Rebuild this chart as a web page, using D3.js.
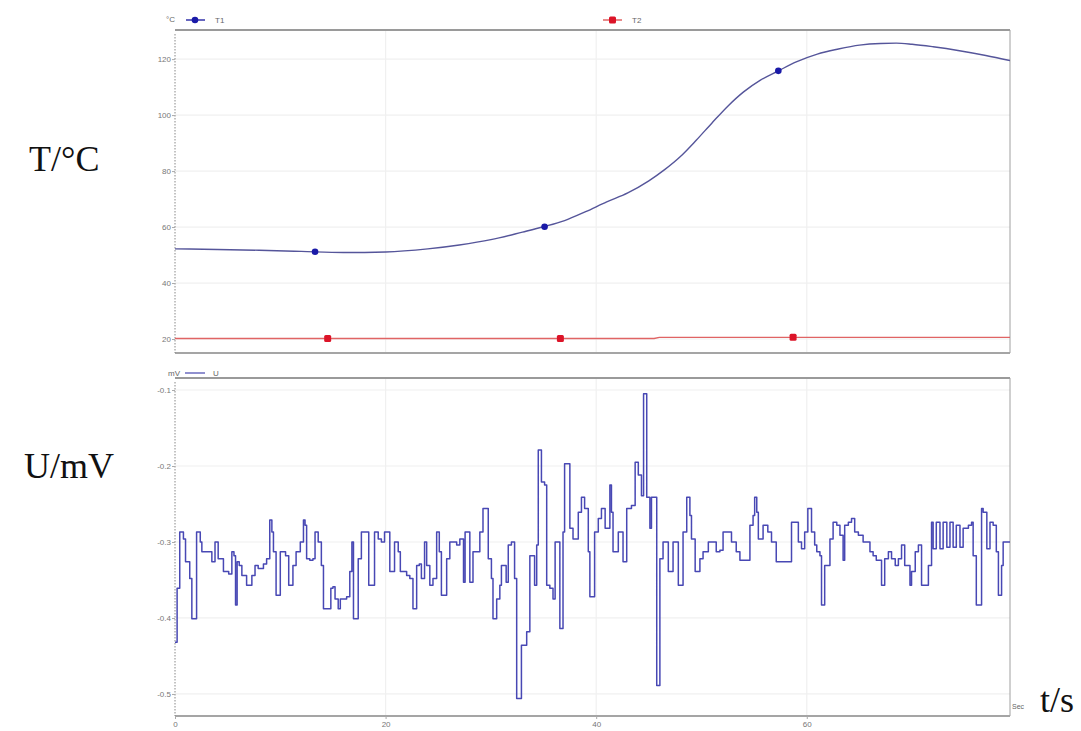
<!DOCTYPE html>
<html>
<head>
<meta charset="utf-8">
<script src="https://cdn.jsdelivr.net/npm/d3@7"></script>
<style>
  body { margin: 0; background: #fff; }
  svg { display: block; }
  .tick text { font-family: "Liberation Sans", Arial, sans-serif; font-size: 8px; fill: #777; }
  .big { font-family: "Liberation Serif", "Times New Roman", serif; font-size: 36px; fill: #111; }
  .small { font-family: "Liberation Sans", Arial, sans-serif; font-size: 8px; fill: #666; }
</style>
</head>
<body>
<div id="chart"></div>
<script>
// temperature curves (time in s, value in °C)
const t1Time = [0, 4, 8, 12, 16, 20, 24, 27, 30, 33, 35, 37, 39, 41, 43, 45, 46.5, 48, 49.5, 51,
  52.5, 54, 55.6, 57.3, 59, 61, 63, 65, 67, 68.5, 70, 72, 74.5, 77, 79.3];
const t1Temp = [52.2, 52.0, 51.7, 51.3, 50.9, 51.1, 52.2, 53.6, 55.5, 58.2, 60.1, 62.3, 65.5, 69.0, 72.2, 76.5, 80.5, 85.2, 91.0, 97.2,
  103.2, 108.3, 112.5, 115.8, 119.0, 121.8, 123.6, 125.0, 125.6, 125.7, 125.3, 124.4, 123.0, 121.3, 119.5];
const t2Time = [0, 20, 45.5, 46, 60, 79.3];
const t2Temp = [20.2, 20.2, 20.2, 20.6, 20.6, 20.6];

const t1MarkTime = [13.3, 35.1, 57.3];
const t1MarkTemp = [51.2, 60.1, 115.8];
const t2MarkTime = [14.5, 36.6, 58.7];
const t2MarkTemp = [20.2, 20.2, 20.6];

// voltage signal (time in s, value in mV)
const uTime = [0.0, 0.2, 0.45, 0.8, 1.0, 1.4, 1.6, 2.05, 2.4, 2.55, 3.2, 3.5, 3.8, 4.1, 4.6, 5.1, 5.4, 5.6, 5.75, 5.9,
  6.1, 6.35, 6.8, 7.3, 7.6, 7.9, 8.4, 8.7, 9.0, 9.2, 9.35, 9.6, 10.0, 10.5, 10.8, 11.2, 11.5, 11.9, 12.2, 12.35,
  12.5, 12.8, 13.1, 13.3, 13.6, 13.9, 14.1, 14.8, 15.0, 15.2, 15.5, 15.7, 16.3, 16.6, 16.8, 16.95, 17.4, 17.7, 18.4, 18.95,
  19.3, 19.6, 19.9, 20.4, 20.85, 21.2, 21.4, 22.0, 22.3, 22.6, 22.95, 23.2, 23.4, 23.7, 23.9, 24.2, 24.5, 24.85, 25.1, 25.3,
  25.8, 26.1, 26.75, 27.05, 27.4, 27.55, 28.0, 28.3, 28.95, 29.25, 29.75, 30.05, 30.2, 30.55, 30.85, 31.0, 31.45, 31.65, 31.95, 32.25,
  32.45, 32.9, 33.4, 33.7, 34.15, 34.35, 34.5, 34.8, 35.1, 35.3, 35.6, 35.9, 36.1, 36.55, 36.85, 37.0, 37.5, 37.8, 38.3, 38.6,
  38.9, 39.25, 39.4, 39.85, 40.2, 40.5, 40.85, 41.3, 41.45, 41.6, 42.1, 42.55, 42.9, 43.35, 43.7, 44.0, 44.3, 44.5, 44.8, 45.1,
  45.25, 45.75, 46.05, 46.35, 46.85, 47.3, 47.8, 48.25, 48.6, 48.9, 49.05, 49.4, 49.85, 50.15, 50.65, 51.4, 51.75, 52.05, 52.85, 53.3,
  53.65, 54.6, 54.9, 55.05, 55.25, 55.4, 55.85, 56.3, 56.65, 57.1, 58.55, 59.2, 59.5, 59.8, 60.1, 60.45, 60.75, 60.95, 61.25, 61.4,
  61.7, 62.2, 62.5, 62.85, 63.15, 63.45, 63.6, 63.95, 64.25, 64.55, 64.9, 65.35, 66.0, 66.3, 66.6, 67.1, 67.4, 67.75, 68.05, 68.4,
  68.7, 69.0, 69.3, 69.8, 69.95, 70.3, 70.6, 70.9, 71.55, 71.85, 72.0, 72.3, 72.65, 72.95, 73.3, 73.6, 73.9, 74.2, 74.55, 74.85,
  75.35, 75.65, 75.8, 76.1, 76.6, 76.75, 77.1, 77.4, 77.7, 78.0, 78.2, 78.5, 78.65, 79.3];
const uVolt = [-0.432, -0.361, -0.287, -0.296, -0.326, -0.348, -0.401, -0.287, -0.300, -0.313, -0.313, -0.326, -0.300, -0.322, -0.339, -0.342, -0.313, -0.318, -0.383, -0.326,
  -0.331, -0.344, -0.357, -0.344, -0.331, -0.335, -0.329, -0.322, -0.271, -0.287, -0.313, -0.370, -0.313, -0.318, -0.357, -0.331, -0.313, -0.300, -0.271, -0.278,
  -0.322, -0.324, -0.322, -0.287, -0.300, -0.331, -0.388, -0.361, -0.359, -0.375, -0.388, -0.375, -0.372, -0.339, -0.300, -0.401, -0.322, -0.287, -0.357, -0.287,
  -0.296, -0.300, -0.287, -0.339, -0.300, -0.313, -0.339, -0.344, -0.348, -0.388, -0.331, -0.329, -0.348, -0.300, -0.331, -0.357, -0.348, -0.287, -0.313, -0.370,
  -0.322, -0.300, -0.304, -0.296, -0.353, -0.287, -0.353, -0.313, -0.287, -0.256, -0.322, -0.348, -0.401, -0.375, -0.357, -0.331, -0.353, -0.304, -0.300, -0.348,
  -0.506, -0.436, -0.418, -0.318, -0.357, -0.304, -0.179, -0.221, -0.225, -0.357, -0.361, -0.375, -0.300, -0.414, -0.287, -0.197, -0.282, -0.296, -0.261, -0.241,
  -0.256, -0.313, -0.372, -0.287, -0.269, -0.256, -0.282, -0.225, -0.261, -0.313, -0.287, -0.326, -0.256, -0.252, -0.195, -0.212, -0.239, -0.105, -0.241, -0.282,
  -0.241, -0.489, -0.322, -0.300, -0.339, -0.300, -0.357, -0.287, -0.241, -0.265, -0.296, -0.339, -0.322, -0.313, -0.300, -0.313, -0.311, -0.287, -0.300, -0.313,
  -0.324, -0.278, -0.265, -0.241, -0.261, -0.296, -0.278, -0.287, -0.300, -0.326, -0.274, -0.300, -0.309, -0.287, -0.256, -0.287, -0.304, -0.313, -0.318, -0.383,
  -0.331, -0.296, -0.274, -0.278, -0.291, -0.324, -0.278, -0.274, -0.269, -0.287, -0.291, -0.300, -0.313, -0.318, -0.324, -0.357, -0.322, -0.313, -0.322, -0.331,
  -0.322, -0.304, -0.331, -0.357, -0.339, -0.313, -0.304, -0.357, -0.331, -0.274, -0.309, -0.274, -0.309, -0.274, -0.307, -0.274, -0.307, -0.278, -0.307, -0.282,
  -0.278, -0.274, -0.318, -0.383, -0.256, -0.261, -0.309, -0.274, -0.278, -0.313, -0.370, -0.331, -0.300, -0.300];

const xTicks = [0, 20, 40, 60];
const tTicks = [20, 40, 60, 80, 100, 120];
const uTicks = [-0.1, -0.2, -0.3, -0.4, -0.5];

const width = 1081, height = 731;
const left = 175, right = 1010;

const svg = d3.select('#chart')
  .append('svg')
    .attr('width', width)
    .attr('height', height);

const x = d3.scaleLinear().domain([0, 79.3]).range([left, right]);
const yT = d3.scaleLinear().domain([15.0, 130.4]).range([353, 30]);
const yU = d3.scaleLinear().domain([-0.529, -0.0842]).range([716, 378]);

function panel(y, ticks, fmt)
{
  const [y0, y1] = y.range();
  const g = svg.append('g');

  // light grid
  g.selectAll('.hg').data(ticks).join('line')
    .attr('x1', left).attr('x2', right)
    .attr('y1', d => y(d)).attr('y2', d => y(d))
    .attr('stroke', '#f0f0f0').attr('stroke-width', 1.2);
  g.selectAll('.vg').data(xTicks.slice(1)).join('line')
    .attr('x1', d => x(d)).attr('x2', d => x(d))
    .attr('y1', y1).attr('y2', y0)
    .attr('stroke', '#f0f0f0').attr('stroke-width', 1.2);

  // frame
  g.append('line').attr('x1', left).attr('x2', right).attr('y1', y1).attr('y2', y1)
    .attr('stroke', '#9a9a9a').attr('stroke-width', 2);
  g.append('line').attr('x1', left).attr('x2', right).attr('y1', y0).attr('y2', y0)
    .attr('stroke', '#a5a5a5').attr('stroke-width', 2);
  g.append('line').attr('x1', right).attr('x2', right).attr('y1', y1).attr('y2', y0)
    .attr('stroke', '#a0a0a0').attr('stroke-width', 1);

  const ax = g.append('g')
    .attr('transform', 'translate(' + left + ',0)')
    .call(d3.axisLeft(y).tickValues(ticks).tickSize(3).tickPadding(1).tickFormat(fmt));
  ax.select('.domain').attr('stroke', '#888').attr('stroke-dasharray', '1.5,1.5').attr('d', 'M0,' + (y1 + 4) + 'V' + y0);
  ax.selectAll('.tick line').attr('stroke', '#aaa');
  return g;
}

panel(yT, tTicks, d3.format('d'));
panel(yU, uTicks, d => d3.format('.1f')(d).replace('\u2212', '-'));

// x axis
const xa = svg.append('g')
  .attr('transform', 'translate(0,716)')
  .call(d3.axisBottom(x).tickValues(xTicks).tickSize(3).tickPadding(2).tickFormat(d3.format('d')));
xa.select('.domain').remove();
xa.selectAll('.tick line').attr('stroke', '#aaa');

// temperature lines
const lineT = d3.line().x(d => x(d[0])).y(d => yT(d[1])).curve(d3.curveMonotoneX);
svg.append('path')
  .datum(d3.zip(t2Time, t2Temp))
  .attr('d', d3.line().x(d => x(d[0])).y(d => yT(d[1])))
  .attr('fill', 'none').attr('stroke', '#e06464').attr('stroke-width', 1.4);
svg.append('path')
  .datum(d3.zip(t1Time, t1Temp))
  .attr('d', lineT)
  .attr('fill', 'none').attr('stroke', '#55559a').attr('stroke-width', 1.4);

svg.selectAll('.m1').data(d3.zip(t1MarkTime, t1MarkTemp)).join('circle')
  .attr('cx', d => x(d[0])).attr('cy', d => yT(d[1])).attr('r', 3.3)
  .attr('fill', '#1a1aa8');
svg.selectAll('.m2').data(d3.zip(t2MarkTime, t2MarkTemp)).join('rect')
  .attr('x', d => x(d[0]) - 3.5).attr('y', d => yT(d[1]) - 3.5)
  .attr('width', 7).attr('height', 7).attr('rx', 1.5)
  .attr('fill', '#dc1428');

// voltage step line
svg.append('path')
  .datum(d3.zip(uTime, uVolt))
  .attr('d', d3.line().x(d => x(d[0])).y(d => yU(d[1])).curve(d3.curveStepAfter))
  .attr('fill', 'none').attr('stroke', '#4848b4').attr('stroke-width', 1.5)
  .attr('stroke-linejoin', 'round');

// legends
svg.append('text').attr('class', 'small').attr('x', 166).attr('y', 22).text('°C');
svg.append('line').attr('x1', 186).attr('x2', 205).attr('y1', 20).attr('y2', 20).attr('stroke', '#3333aa').attr('stroke-width', 1.5);
svg.append('circle').attr('cx', 195).attr('cy', 20).attr('r', 3.3).attr('fill', '#1a1aa8');
svg.append('text').attr('class', 'small').attr('x', 215).attr('y', 23).text('T1');
svg.append('line').attr('x1', 603).attr('x2', 622).attr('y1', 20).attr('y2', 20).attr('stroke', '#e06464').attr('stroke-width', 1.5);
svg.append('rect').attr('x', 609).attr('y', 16.5).attr('width', 7).attr('height', 7).attr('rx', 1.5).attr('fill', '#dc1428');
svg.append('text').attr('class', 'small').attr('x', 632).attr('y', 23).text('T2');

svg.append('text').attr('class', 'small').attr('x', 168).attr('y', 376).text('mV');
svg.append('line').attr('x1', 185).attr('x2', 205).attr('y1', 373).attr('y2', 373).attr('stroke', '#4646b0').attr('stroke-width', 1.2);
svg.append('text').attr('class', 'small').attr('x', 213).attr('y', 376).text('U');

svg.append('text').attr('class', 'small').attr('x', 1012).attr('y', 709).style('font-size', '7px').text('Sec');

// big axis titles
svg.append('text').attr('class', 'big').attr('x', 29).attr('y', 171).text('T/°C');
svg.append('text').attr('class', 'big').attr('x', 24).attr('y', 478).text('U/mV');
svg.append('text').attr('class', 'big').attr('x', 1040).attr('y', 712).text('t/s');
</script>
</body>
</html>
